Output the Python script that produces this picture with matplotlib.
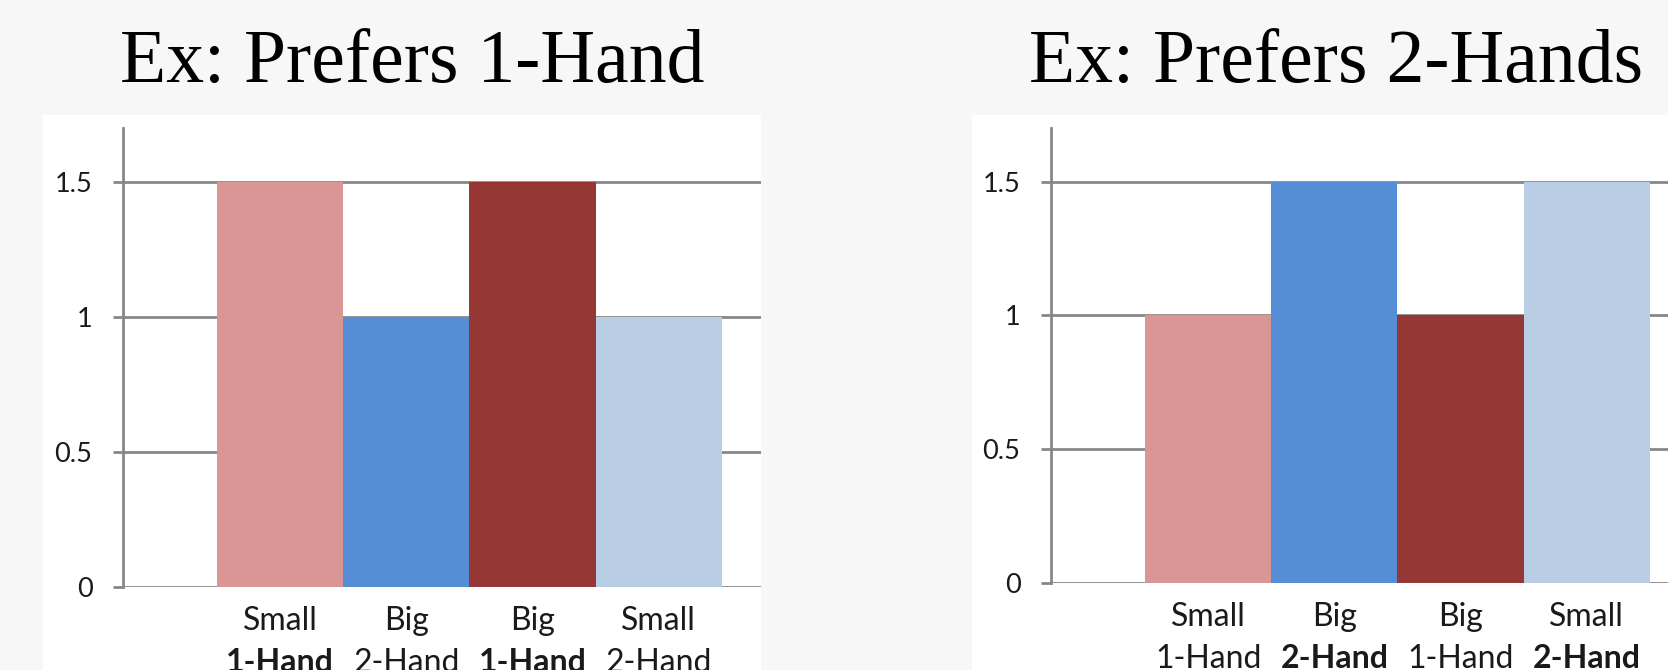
import matplotlib
matplotlib.use("Agg")
import matplotlib.pyplot as plt
from matplotlib.patches import Rectangle

# chart data
sizes = ["Small", "Big", "Big", "Small"]
hands = ["1-Hand", "2-Hand", "1-Hand", "2-Hand"]
bar_colors = ["#D99694", "#558ED5", "#953735", "#B9CDE5"]
yticks = [0, 0.5, 1, 1.5]
ytick_labels = ["0", "0.5", "1", "1.5"]

titles = ["Ex: Prefers 1-Hand", "Ex: Prefers 2-Hands"]
values_1hand = [1.5, 1, 1.5, 1]
values_2hand = [1, 1.5, 1, 1.5]
bold_1hand = [True, False, True, False]
bold_2hand = [False, True, False, True]

W, H = 1668, 670
fig = plt.figure(figsize=(W / 100, H / 100), dpi=100)
fig.patch.set_facecolor("#f7f7f7")

grey = "#878787"
txt = "#1a1a1a"

# panel layouts in pixels: (white_left, white_right, axis_left, axis_bottom, axis_top, title_x)
panels = [
    (43, 761, 123, 587, 128, 120),
    (972, 1668, 1051, 583, 128, 1029),
]
data = [(values_1hand, bold_1hand), (values_2hand, bold_2hand)]

for p, (vals, bolds), title in zip(panels, data, titles):
    wl, wr, al, ab, at, tx = p
    fig.add_artist(Rectangle((wl / W, 0), (wr - wl) / W, 1 - 115 / H,
                             transform=fig.transFigure, facecolor="white",
                             edgecolor="none", zorder=-5))
    ax = fig.add_axes([al / W, 1 - ab / H, 638 / W, (ab - at) / H])
    ax.set_zorder(2)
    ax.set_facecolor("none")
    x = list(range(len(vals)))
    ax.bar(x, vals, width=1.0, color=bar_colors, zorder=3)
    ax.set_xlim(-1.245, 3.81)
    ax.set_ylim(0, 1.7)
    ax.set_yticks(yticks)
    ax.set_yticklabels(ytick_labels, fontfamily="Lato", fontsize=19.5, color=txt)
    ax.yaxis.grid(True, color=grey, linewidth=2, zorder=1)
    ax.set_axisbelow(True)
    ax.tick_params(axis="y", length=7, width=2, color=grey, pad=15)
    ax.set_xticks([])
    for s in ["top", "right", "bottom"]:
        ax.spines[s].set_visible(False)
    ax.spines["left"].set_color(grey)
    ax.spines["left"].set_linewidth(2)
    ax.spines["left"].set_zorder(4)
    for i in x:
        ax.annotate(sizes[i], xy=(i, 0), xycoords=("data", "axes fraction"),
                    xytext=(0, -43), textcoords="offset pixels", ha="center",
                    va="baseline", fontfamily="Lato", fontsize=23, color=txt,
                    annotation_clip=False)
        ax.annotate(hands[i], xy=(i, 0), xycoords=("data", "axes fraction"),
                    xytext=(0, -85), textcoords="offset pixels", ha="center",
                    va="baseline", fontfamily="Lato", fontsize=23, color=txt,
                    fontweight="bold" if bolds[i] else "normal",
                    annotation_clip=False)
    fig.text(tx / W, 1 - 82 / H, title, fontfamily="Liberation Serif",
             fontsize=54.5, color="black", ha="left", va="baseline")

fig.savefig("out.png", dpi=100, facecolor=fig.get_facecolor())
